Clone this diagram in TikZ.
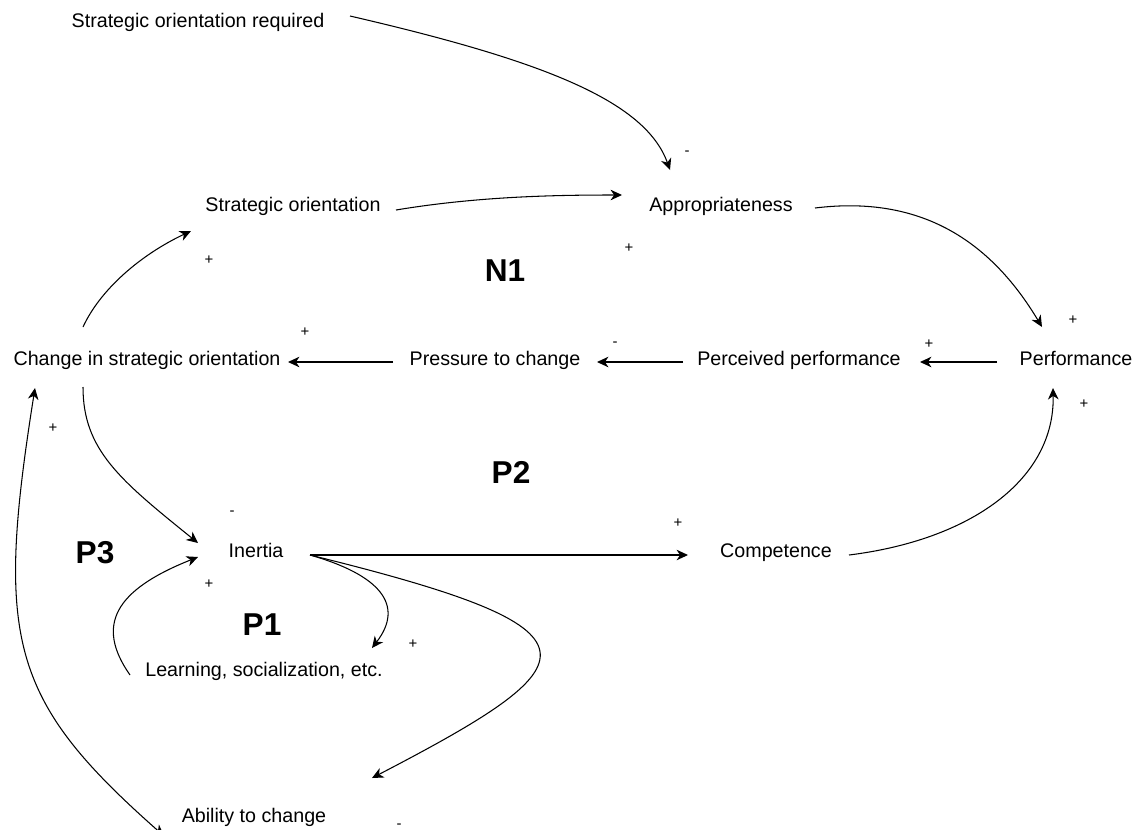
\documentclass[tikz,border=0pt]{standalone}
\usepackage{fontspec}
\setmainfont{Liberation Sans}
\usetikzlibrary{arrows.meta}
\begin{document}
\begin{tikzpicture}[x=0.02cm,y=-0.02cm,
  lbl/.style={anchor=base, inner sep=0pt, font=\fontsize{11.2}{13}\selectfont},
  big/.style={inner sep=0pt, font=\fontsize{18}{20}\selectfont\bfseries},
  sgn/.style={inner sep=0pt, font=\fontsize{8.5}{9}\selectfont},
  arr/.style={line width=0.6pt, -{Stealth[length=6.5pt,width=6pt,inset=2pt]}},
  dbl/.style={line width=0.6pt, {Stealth[length=6.5pt,width=6pt,inset=2pt]}-{Stealth[length=6.5pt,width=6pt,inset=2pt]}},
  ]
\useasboundingbox (0,0) rectangle (1139,829);
% variables
\node[lbl] (sor) at (198,27) {Strategic orientation required};
\node[lbl] (so) at (293,211) {Strategic orientation};
\node[lbl] (app) at (721,211) {Appropriateness};
\node[lbl] (chg) at (147,365) {Change in strategic orientation};
\node[lbl] (ptc) at (495,365) {Pressure to change};
\node[lbl] (pp) at (799,365) {Perceived performance};
\node[lbl] (perf) at (1076,365) {Performance};
\node[lbl] (ine) at (256,557) {Inertia};
\node[lbl] (comp) at (776,557) {Competence};
\node[lbl] (learn) at (264,676) {Learning, socialization, etc.};
\node[lbl] (abil) at (254,822) {Ability to change};
% loop labels
\node[big] (n1) at (505,271) {N1};
\node[big] (p2) at (511,472) {P2};
\node[big] (p3) at (95,553) {P3};
\node[big] (p1) at (262,625) {P1};
% connectors
\draw[arr] ([shift={(152,-11)}]sor.base) .. controls (540,60) and (645,100) .. ([shift={(-51,-41)}]app.base);
\draw[arr] ([shift={(103,-1)}]so.base) .. controls (480,196) and (560,195) .. ([shift={(-99,-16)}]app.base);
\draw[arr] ([shift={(94,-3)}]app.base) .. controls (920,195) and (990,240) .. ([shift={(-34,-38)}]perf.base);
\draw[arr] ([shift={(-79,-3)}]perf.base) -- ([shift={(121,-3)}]pp.base);
\draw[arr] ([shift={(-116,-3)}]pp.base) -- ([shift={(102,-3)}]ptc.base);
\draw[arr] ([shift={(-102,-3)}]ptc.base) -- ([shift={(141,-3)}]chg.base);
\draw[arr] ([shift={(-64,-38)}]chg.base) .. controls (100,290) and (140,255) .. ([shift={(-102,20)}]so.base);
\draw[arr] ([shift={(-64,22)}]chg.base) .. controls (83,450) and (120,480) .. ([shift={(-58,-14)}]ine.base);
\draw[arr] ([shift={(54,-2)}]ine.base) -- ([shift={(-88,-2)}]comp.base);
\draw[arr] ([shift={(73,-2)}]comp.base) .. controls (970,540) and (1055,480) .. ([shift={(-23,23)}]perf.base);
\draw[arr] ([shift={(54,-2)}]ine.base) .. controls (380,575) and (405,605) .. ([shift={(108,-28)}]learn.base);
\draw[arr] ([shift={(54,-2)}]ine.base) .. controls (615,630) and (595,662) .. ([shift={(118,-44)}]abil.base);
\draw[arr] ([shift={(-134,-1)}]learn.base) .. controls (95,625) and (115,590) .. ([shift={(-58,0)}]ine.base);
\draw[dbl] ([shift={(-112,23)}]chg.base) .. controls (-5,640) and (10,700) .. ([shift={(-90,14)}]abil.base);
% polarity signs
\node[sgn] (s1) at (687,153) {-};
\node[sgn] (s2) at (629,248) {+};
\node[sgn] (s3) at (209,260) {+};
\node[sgn] (s4) at (305,332) {+};
\node[sgn] (s5) at (615,344) {-};
\node[sgn] (s6) at (929,344) {+};
\node[sgn] (s7) at (1073,320) {+};
\node[sgn] (s8) at (1084,404) {+};
\node[sgn] (s9) at (53,428) {+};
\node[sgn] (s10) at (232,513) {-};
\node[sgn] (s11) at (209,584) {+};
\node[sgn] (s12) at (678,523) {+};
\node[sgn] (s13) at (413,644) {+};
\node[sgn] (s14) at (399,826) {-};
\end{tikzpicture}
\end{document}
